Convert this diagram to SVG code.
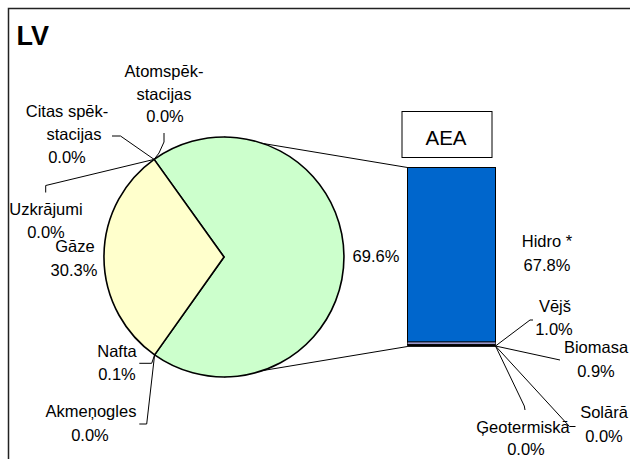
<svg xmlns="http://www.w3.org/2000/svg" width="630" height="459" viewBox="0 0 630 459">
<style>
text{font-family:"Liberation Sans",Arial,sans-serif;font-size:16.5px;fill:#000;text-anchor:middle}
.ld{fill:none;stroke:#000;stroke-width:1}
.slice{stroke:#000;stroke-width:1.6;stroke-linejoin:round}
</style>
<rect x="0" y="0" width="630" height="459" fill="#fff"/>
<rect x="8.5" y="8.5" width="640" height="470" fill="#fff" stroke="#222" stroke-width="1.5"/>
<text x="16.5" y="44.5" style="font-size:27px;font-weight:bold;text-anchor:start">LV</text>
<g id="connectors">
<line class="ld" x1="224" y1="137" x2="407.5" y2="167.5"/>
<line class="ld" x1="224" y1="377" x2="407.5" y2="346.5"/>
<polyline class="ld" points="164,133 164,142 159,153 154.1,159.4"/>
<polyline class="ld" points="112,136 120.5,136 154.1,159.4"/>
<polyline class="ld" points="154.1,159.4 45.7,185.5 45.7,192.5"/>
<polyline class="ld" points="154.6,354.9 151.7,363.3 139.3,363.3"/>
<polyline class="ld" points="154.6,354.9 146.7,424 139.3,424"/>
<polyline class="ld" points="495.5,346 530,320 533,320"/>
<polyline class="ld" points="495.5,346 560,360"/>
<polyline class="ld" points="495.5,346 524.3,406 525,410"/>
<polyline class="ld" points="495.5,346 569.5,426.5 575.5,426.5"/>
</g>
<g id="pie">
<path class="slice" fill="#CCFFCC" d="M224,257 L154.1,159.4 A120,120 0 1,1 154.6,354.9 Z"/>
<path class="slice" fill="#FFFFCC" d="M224,257 L154.6,354.9 A120,120 0 0,1 154.1,159.4 Z"/>
</g>
<g id="bar">
<rect x="407.5" y="167.5" width="88" height="174.5" fill="#0066CC" stroke="#000" stroke-width="1"/>
<rect x="407.5" y="342" width="88" height="2.6" fill="#9999CC" stroke="#000" stroke-width="0.7"/>
<rect x="407.5" y="344.6" width="88" height="2" fill="#000" stroke="#000" stroke-width="0.7"/>
</g>
<g id="aea">
<rect x="402" y="111.5" width="90" height="46" fill="#fff" stroke="#000" stroke-width="1"/>
<text x="446" y="145" style="font-size:20.5px">AEA</text>
</g>
<g id="labels">
<g id="atom"><text x="164" y="77">Atomspēk-</text><text x="164" y="100">stacijas</text><text x="165" y="122">0.0%</text></g>
<g id="citas"><text x="67" y="117">Citas spēk-</text><text x="74" y="140">stacijas</text><text x="67" y="163">0.0%</text></g>
<g id="uzkr"><text x="46" y="215">Uzkrājumi</text><text x="46" y="238">0.0%</text></g>
<g id="gaze"><text x="75" y="252">Gāze</text><text x="74" y="276">30.3%</text></g>
<g id="pct"><text x="376" y="262">69.6%</text></g>
<g id="nafta"><text x="117" y="357">Nafta</text><text x="117" y="380">0.1%</text></g>
<g id="akm"><text x="91" y="417">Akmeņogles</text><text x="90" y="441">0.0%</text></g>
<g id="hidro"><text x="547" y="247">Hidro *</text><text x="547" y="271">67.8%</text></g>
<g id="vejs"><text x="555" y="312">Vējš</text><text x="554" y="335">1.0%</text></g>
<g id="bio"><text x="596" y="353">Biomasa</text><text x="596" y="377">0.9%</text></g>
<g id="sol"><text x="604" y="418">Solārā</text><text x="604" y="442">0.0%</text></g>
<g id="geo"><text x="523" y="433">Ģeotermiskā</text><text x="526" y="455">0.0%</text></g>
</g>
</svg>
